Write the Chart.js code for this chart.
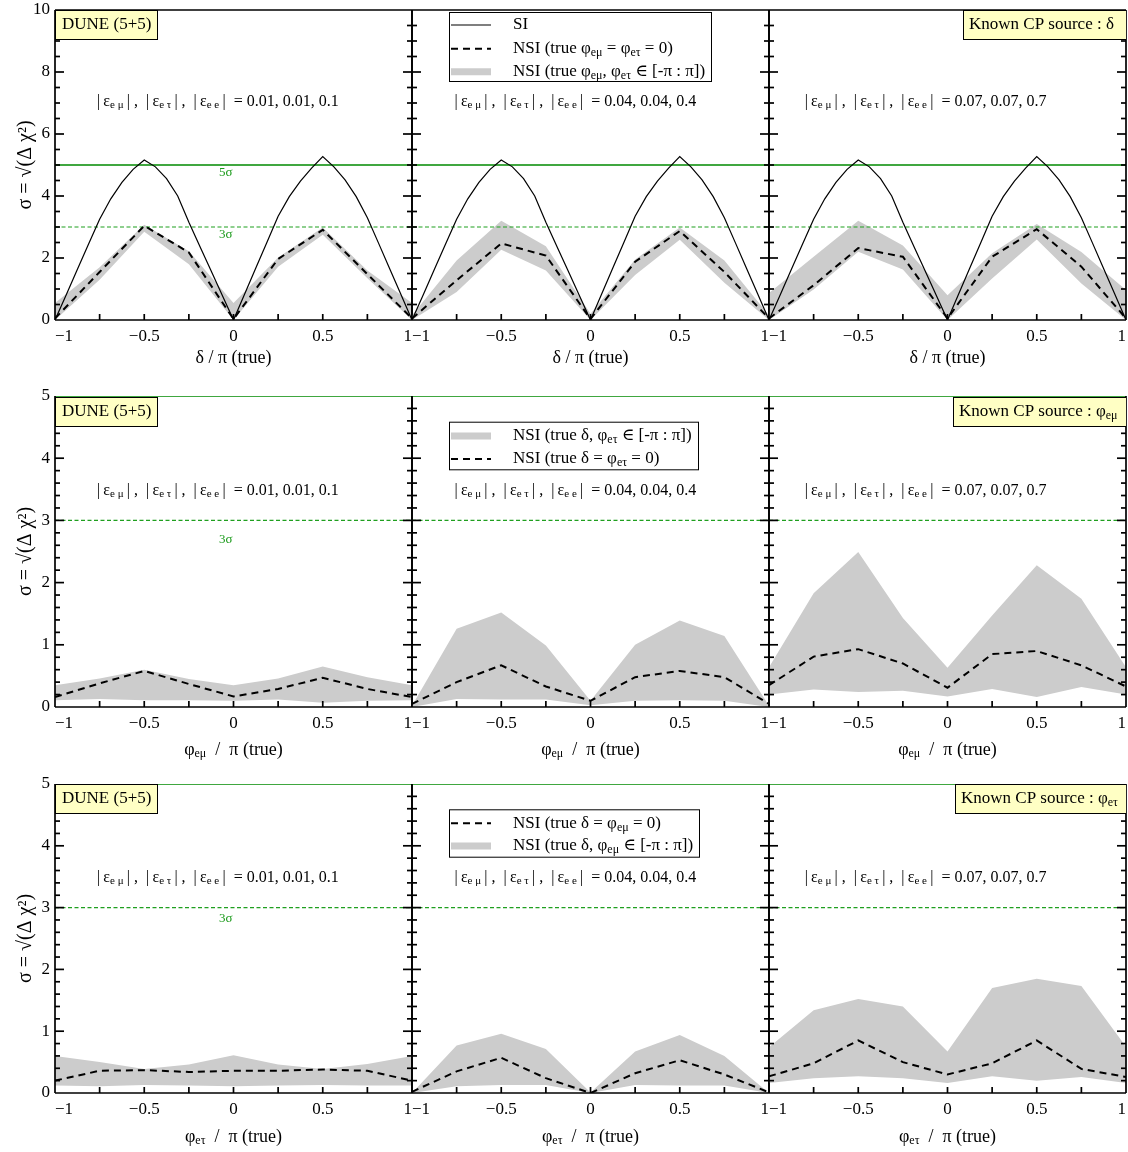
<!DOCTYPE html>
<html>
<head>
<meta charset="utf-8">
<script src="https://cdn.jsdelivr.net/npm/chart.js@4.4.1/dist/chart.umd.min.js"></script>
<style>
  html, body { margin: 0; padding: 0; background: #fff; }
  #wrap { position: relative; width: 1128px; height: 1152px; overflow: hidden; background: #fff; }
  #wrap canvas { position: absolute; }
</style>
</head>
<body>
<div id="wrap"></div>
<script>
// x grid of the NSI scans (true phase / pi)
const phaseX = [-1, -0.75, -0.5, -0.25, 0, 0.25, 0.5, 0.75, 1];

// SI curve, finer grid
const siX = [-1, -0.9375, -0.875, -0.8125, -0.75, -0.6875, -0.625, -0.5625, -0.5, -0.4375, -0.375, -0.3125, -0.25, -0.1875, -0.125, -0.0625,
  0, 0.0625, 0.125, 0.1875, 0.25, 0.3125, 0.375, 0.4375, 0.5, 0.5625, 0.625, 0.6875, 0.75, 0.8125, 0.875, 0.9375, 1];
const siSigma = [0, 0.81, 1.63, 2.44, 3.25, 3.91, 4.44, 4.86, 5.16, 4.94, 4.56, 4.0, 3.15, 2.36, 1.58, 0.79,
  0, 0.84, 1.68, 2.51, 3.35, 3.98, 4.48, 4.9, 5.27, 4.94, 4.52, 3.98, 3.3, 2.48, 1.65, 0.83, 0];

// row 1 : true delta on x axis (one array per |eps| set)
const deltaDashed = [
  [0.05, 1.55, 3.04, 2.18, 0.03, 1.97, 2.91, 1.48, 0.05],
  [0.05, 1.28, 2.47, 2.08, 0.03, 1.88, 2.87, 1.55, 0.05],
  [0.05, 1.12, 2.32, 2.04, 0.05, 2.04, 2.93, 1.72, 0.05]
];
const deltaUpper = [
  [0.55, 1.7, 3.07, 2.22, 0.55, 2.02, 2.98, 1.6, 0.55],
  [0.15, 1.92, 3.2, 2.38, 0.2, 1.95, 2.98, 1.92, 0.15],
  [0.87, 2.04, 3.2, 2.4, 0.8, 2.15, 3.1, 2.19, 0.97]
];
const deltaLower = [
  [0, 1.3, 2.85, 1.8, 0, 1.72, 2.75, 1.35, 0],
  [0, 0.9, 2.27, 1.6, 0, 1.45, 2.59, 1.2, 0],
  [0, 0.98, 2.2, 1.63, 0, 1.34, 2.6, 1.18, 0]
];

// row 2 : true phi_emu on x axis
const phiEmuDashed = [
  [0.16, 0.38, 0.58, 0.37, 0.17, 0.29, 0.47, 0.29, 0.16],
  [0.05, 0.4, 0.67, 0.33, 0.1, 0.48, 0.58, 0.48, 0.05],
  [0.35, 0.81, 0.93, 0.7, 0.31, 0.85, 0.9, 0.67, 0.33]
];
const phiEmuUpper = [
  [0.35, 0.46, 0.6, 0.45, 0.35, 0.46, 0.65, 0.48, 0.35],
  [0.02, 1.26, 1.52, 0.99, 0.1, 1.0, 1.39, 1.14, 0.02],
  [0.64, 1.83, 2.49, 1.43, 0.63, 1.47, 2.28, 1.74, 0.64]
];
const phiEmuLower = [
  [0.11, 0.13, 0.11, 0.11, 0.1, 0.12, 0.07, 0.1, 0.11],
  [0, 0.13, 0.12, 0.12, 0.03, 0.1, 0.11, 0.1, 0],
  [0.2, 0.28, 0.24, 0.26, 0.17, 0.29, 0.16, 0.32, 0.2]
];

// row 3 : true phi_etau on x axis
const phiEtauDashed = [
  [0.2, 0.36, 0.37, 0.34, 0.36, 0.36, 0.38, 0.36, 0.2],
  [0.02, 0.35, 0.57, 0.24, 0, 0.32, 0.53, 0.3, 0.01],
  [0.27, 0.48, 0.85, 0.5, 0.3, 0.48, 0.85, 0.39, 0.26]
];
const phiEtauUpper = [
  [0.6, 0.5, 0.39, 0.46, 0.61, 0.46, 0.39, 0.47, 0.6],
  [0, 0.77, 0.96, 0.71, 0.01, 0.67, 0.94, 0.6, 0],
  [0.74, 1.34, 1.52, 1.4, 0.67, 1.7, 1.85, 1.73, 0.75]
];
const phiEtauLower = [
  [0.12, 0.11, 0.13, 0.12, 0.11, 0.12, 0.13, 0.12, 0.12],
  [0, 0.11, 0.13, 0.13, 0, 0.13, 0.12, 0.12, 0],
  [0.16, 0.24, 0.27, 0.24, 0.16, 0.27, 0.2, 0.26, 0.16]
];

const epsValues = ['0.01, 0.01, 0.1', '0.04, 0.04, 0.4', '0.07, 0.07, 0.7'];
const sigmaLevels = [5, 3];

const FONT = '"Liberation Serif", "DejaVu Serif", serif';
const GRAY = '#cccccc';

// layout of the 3x3 grid (plot areas)
const plotLeft = [55, 412, 769];
const plotWidth = 357;
const rowTop = [10, 396, 784];
const rowHeight = [310, 311, 309];
const rowBottomSpace = [50, 55, 55];

const rows = [
  {
    dashed: deltaDashed, upper: deltaUpper, lower: deltaLower, si: true,
    yMax: 10, yStep: 2, yMinor: 0.5, epsY: 7.04,
    xTitle: ['δ / π (true)'], xTitleOff: 38,
    sigmaLabels: [{ t: '5σ', y: 4.75 }, { t: '3σ', y: 2.77 }],
    cpLabel: ['Known CP source : δ'], cpWidth: 163, boxDy: 0,
    legend: { dy: 2, w: 262, h: 69, items: [
      { kind: 'solid', y: 15, parts: ['SI'] },
      { kind: 'dashed', y: 38.7, parts: ['NSI (true φ', ['eμ'], ' = φ', ['eτ'], ' = 0)'] },
      { kind: 'band', y: 61.7, parts: ['NSI (true φ', ['eμ'], ', φ', ['eτ'], ' ∈ [-π : π])'] }
    ] }
  },
  {
    dashed: phiEmuDashed, upper: phiEmuUpper, lower: phiEmuLower, si: false,
    yMax: 5, yStep: 1, yMinor: 0.2, epsY: 3.48,
    xTitle: ['φ', ['eμ'], '  /  π (true)'], xTitleOff: 43,
    sigmaLabels: [{ t: '3σ', y: 2.69 }],
    cpLabel: ['Known CP source : φ', ['eμ']], cpWidth: 173, boxDy: 1,
    legend: { dy: 25.7, w: 249, h: 47.6, items: [
      { kind: 'band', y: 14.3, parts: ['NSI (true δ, φ', ['eτ'], ' ∈ [-π : π])'] },
      { kind: 'dashed', y: 37.3, parts: ['NSI (true δ = φ', ['eτ'], ' = 0)'] }
    ] }
  },
  {
    dashed: phiEtauDashed, upper: phiEtauUpper, lower: phiEtauLower, si: false,
    yMax: 5, yStep: 1, yMinor: 0.2, epsY: 3.49,
    xTitle: ['φ', ['eτ'], '  /  π (true)'], xTitleOff: 44,
    sigmaLabels: [{ t: '3σ', y: 2.82 }],
    cpLabel: ['Known CP source : φ', ['eτ']], cpWidth: 171, boxDy: 0,
    legend: { dy: 25.3, w: 250, h: 47.4, items: [
      { kind: 'dashed', y: 14, parts: ['NSI (true δ = φ', ['eμ'], ' = 0)'] },
      { kind: 'band', y: 36.7, parts: ['NSI (true δ, φ', ['eμ'], ' ∈ [-π : π])'] }
    ] }
  }
];
const epsStartX = [-0.765, -0.762, -0.80];

function fmt(v) {
  return v < 0 ? '\u2212' + (-v) : String(v);
}

function richText(ctx, parts, x, y, size, align) {
  const main = size + 'px ' + FONT;
  const sub = Math.round(size * 0.68) + 'px ' + FONT;
  const items = parts.map(p => Array.isArray(p)
    ? { t: p[0], f: sub, dy: size * 0.24 }
    : { t: p, f: main, dy: 0 });
  let w = 0;
  items.forEach(it => { ctx.font = it.f; it.w = ctx.measureText(it.t).width; w += it.w; });
  let cx = align === 'center' ? x - w / 2 : x;
  ctx.textAlign = 'left';
  ctx.textBaseline = 'middle';
  items.forEach(it => { ctx.font = it.f; ctx.fillText(it.t, cx, y + it.dy); cx += it.w; });
  return w;
}

function seg(ctx, x1, y1, x2, y2) {
  ctx.beginPath();
  ctx.moveTo(x1, y1);
  ctx.lineTo(x2, y2);
  ctx.stroke();
}

function decor(r, row, col) {
  return {
    id: 'decor',
    afterDatasetsDraw(chart) {
      const ctx = chart.ctx;
      const ca = chart.chartArea;
      const xs = chart.scales.x;
      const ys = chart.scales.y;
      ctx.save();
      ctx.setLineDash([]);
      ctx.strokeStyle = '#000';

      // inward ticks on the bottom, left and right edges
      ctx.lineWidth = 1.7;
      for (let k = -3; k <= 3; k++) {
        const px = xs.getPixelForValue(k * 0.25);
        seg(ctx, px, ca.bottom, px, ca.bottom - 6);
      }
      const n = Math.round(r.yMax / r.yMinor);
      for (let i = 1; i < n; i++) {
        const v = i * r.yMinor;
        const q = v / r.yStep;
        const len = Math.abs(q - Math.round(q)) < 1e-6 ? 9 : 5;
        const py = ys.getPixelForValue(v);
        seg(ctx, ca.left, py, ca.left + len, py);
        seg(ctx, ca.right, py, ca.right - len, py);
      }

      // frame (top edge is the green 5 sigma line in rows 2 and 3)
      ctx.lineWidth = 1.7;
      seg(ctx, ca.left, ca.top, ca.left, ca.bottom);
      seg(ctx, ca.right, ca.top, ca.right, ca.bottom);
      seg(ctx, ca.left, ca.bottom, ca.right, ca.bottom);
      if (r.yMax !== sigmaLevels[0]) seg(ctx, ca.left, ca.top, ca.right, ca.top);

      // clip the annotations to the plot area
      ctx.beginPath();
      ctx.rect(ca.left, ca.top, ca.right - ca.left, ca.bottom - ca.top);
      ctx.clip();

      ctx.fillStyle = '#000';
      richText(ctx, ['|\u2009ε', ['e μ'], '\u2009| ,  |\u2009ε', ['e τ'], '\u2009| ,  |\u2009ε', ['e e'], '\u2009|  = ' + epsValues[col]],
        xs.getPixelForValue(epsStartX[col]), ys.getPixelForValue(r.epsY), 16, 'left');

      if (col === 0) {
        ctx.fillStyle = '#1a9a1a';
        r.sigmaLabels.forEach(s => {
          richText(ctx, [s.t], xs.getPixelForValue(-0.043), ys.getPixelForValue(s.y), 13, 'center');
        });
        // experiment box
        ctx.fillStyle = '#ffffc4';
        ctx.strokeStyle = '#000';
        ctx.lineWidth = 1;
        ctx.fillRect(ca.left, ca.top + r.boxDy, 102, 29);
        ctx.strokeRect(ca.left + 0.5, ca.top + r.boxDy + 0.5, 102, 29);
        ctx.fillStyle = '#000';
        richText(ctx, ['DUNE (5+5)'], ca.left + 7, ca.top + r.boxDy + 15, 17, 'left');
      }

      if (col === 2) {
        const bx = ca.right - r.cpWidth;
        ctx.fillStyle = '#ffffc4';
        ctx.strokeStyle = '#000';
        ctx.lineWidth = 1;
        ctx.fillRect(bx, ca.top + r.boxDy, r.cpWidth, 29);
        ctx.strokeRect(bx + 0.5, ca.top + r.boxDy + 0.5, r.cpWidth, 29);
        ctx.fillStyle = '#000';
        richText(ctx, r.cpLabel, bx + 6, ca.top + r.boxDy + 15, 17, 'left');
      }

      if (col === 1) {
        const lg = r.legend;
        const lx = ca.left + 37;
        const ly = ca.top + lg.dy;
        ctx.fillStyle = '#fff';
        ctx.fillRect(lx, ly, lg.w, lg.h);
        ctx.strokeStyle = '#000';
        ctx.lineWidth = 1;
        ctx.strokeRect(lx + 0.5, ly + 0.5, lg.w, lg.h);
        lg.items.forEach(it => {
          const yy = ca.top + it.y + (lg.dy > 10 ? lg.dy : 0);
          ctx.setLineDash([]);
          if (it.kind === 'solid') { ctx.strokeStyle = '#000'; ctx.lineWidth = 1.2; }
          if (it.kind === 'dashed') { ctx.strokeStyle = '#000'; ctx.lineWidth = 2; ctx.setLineDash([7, 5]); }
          if (it.kind === 'band') { ctx.strokeStyle = GRAY; ctx.lineWidth = 7; }
          seg(ctx, lx + 2, yy, lx + 42, yy);
          ctx.setLineDash([]);
          ctx.fillStyle = '#000';
          richText(ctx, it.parts, lx + 64, yy, 17, 'left');
        });
      }
      ctx.restore();

      // x axis title
      ctx.save();
      ctx.fillStyle = '#000';
      richText(ctx, r.xTitle, (ca.left + ca.right) / 2, ca.bottom + r.xTitleOff, 18, 'center');
      ctx.restore();
    }
  };
}

function pts(xv, yv) {
  return xv.map((x, i) => ({ x: x, y: yv[i] }));
}

function makePanel(row, col) {
  const r = rows[row];
  const padL = col === 0 ? 0 : 15;
  const padR = col === 2 ? 2 : 15;
  const left = plotLeft[col] - (col === 0 ? plotLeft[0] : padL);
  const width = (plotLeft[col] + plotWidth + padR) - left;
  const top = rowTop[row] - 10;
  const height = 10 + rowHeight[row] + rowBottomSpace[row];

  const canvas = document.createElement('canvas');
  canvas.width = width;
  canvas.height = height;
  canvas.style.left = left + 'px';
  canvas.style.top = top + 'px';
  canvas.style.width = width + 'px';
  canvas.style.height = height + 'px';
  document.getElementById('wrap').appendChild(canvas);

  const datasets = [
    { data: pts(phaseX, r.lower[col]), borderColor: 'rgba(0,0,0,0)', borderWidth: 0, fill: false, order: 5 },
    { data: pts(phaseX, r.upper[col]), borderColor: 'rgba(0,0,0,0)', borderWidth: 0, fill: '-1', backgroundColor: GRAY, order: 4 },
    { data: pts([-1, 1], [sigmaLevels[1], sigmaLevels[1]]), borderColor: '#1f9f1f', borderWidth: 1.2, borderDash: [4, 2.5], order: 3 },
    { data: pts([-1, 1], [sigmaLevels[0], sigmaLevels[0]]), borderColor: '#008a00', borderWidth: 1.3, order: 2 },
    { data: pts(phaseX, r.dashed[col]), borderColor: '#000', borderWidth: 2, borderDash: [7, 5], order: 1 }
  ];
  if (r.si) {
    datasets.push({ data: pts(siX, siSigma), borderColor: '#000', borderWidth: 1.2, order: 0 });
  }
  datasets.forEach(d => { d.pointRadius = 0; d.tension = 0; if (d.fill === undefined) d.fill = false; });

  new Chart(canvas, {
    type: 'line',
    data: { datasets: datasets },
    options: {
      responsive: false,
      animation: false,
      devicePixelRatio: 1,
      layout: { padding: { left: padL, right: padR, top: 10, bottom: 0 } },
      plugins: { legend: { display: false }, tooltip: { enabled: false } },
      scales: {
        x: {
          type: 'linear', min: -1, max: 1,
          grid: { display: false, drawTicks: false },
          border: { display: false },
          ticks: {
            stepSize: 0.5, align: 'inner', padding: 6, color: '#000',
            font: { family: FONT, size: 17 }, callback: fmt, maxRotation: 0
          },
          afterFit: s => { s.height = rowBottomSpace[row]; s.paddingLeft = 0; s.paddingRight = 0; }
        },
        y: {
          type: 'linear', min: 0, max: r.yMax, display: col === 0,
          grid: { display: false, drawTicks: false },
          border: { display: false },
          ticks: {
            stepSize: r.yStep, padding: 5, color: '#000',
            font: { family: FONT, size: 17 }, callback: fmt
          },
          title: {
            display: true, text: 'σ = √(Δ χ²)', color: '#000',
            font: { family: FONT, size: 20, lineHeight: 1.2 }, padding: { top: 13.5, bottom: 0 }
          },
          afterFit: s => {
            if (col === 0) s.width = plotLeft[0];
            s.paddingTop = 0; s.paddingBottom = 0;
          }
        }
      }
    },
    plugins: [decor(r, row, col)]
  });
}

for (let row = 0; row < 3; row++) {
  for (let col = 0; col < 3; col++) makePanel(row, col);
}
</script>
</body>
</html>
